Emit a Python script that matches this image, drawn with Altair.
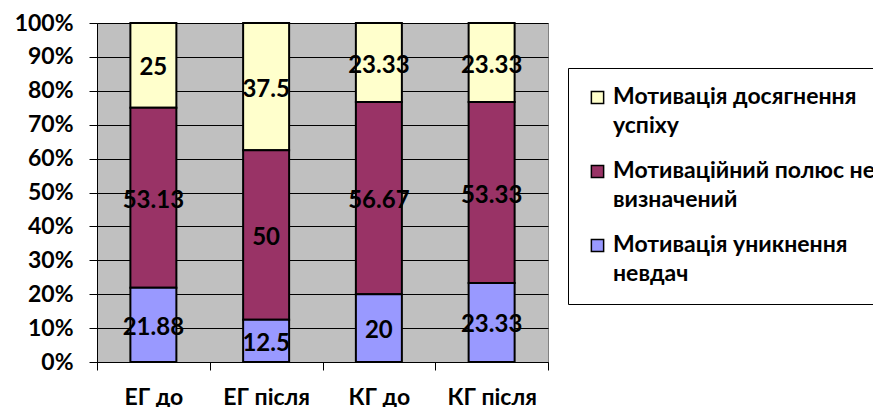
import altair as alt
import pandas as pd

# Groups along the x axis
groups = ["ЕГ до", "ЕГ після", "КГ до", "КГ після"]

# Series (percent shares per group)
series_names = [
    "Мотивація досягнення|успіху",
    "Мотиваційний полюс не|визначений",
    "Мотивація уникнення|невдач",
]
success = [25, 37.5, 23.33, 23.33]
undefined_pole = [53.13, 50, 56.67, 53.33]
avoid_failure = [21.88, 12.5, 20, 23.33]

# y-axis tick positions (fractions of the stacked total)
y_ticks = [0, 0.1, 0.2, 0.3, 0.4, 0.5, 0.6, 0.7, 0.8, 0.9, 1]

series_colors = ["#FFFFCC", "#993366", "#9999FF"]
# stacking position: 0 = bottom
stack_pos = [2, 1, 0]

rows = []
for name, vals, pos in zip(series_names, [success, undefined_pole, avoid_failure], stack_pos):
    for g, v in zip(groups, vals):
        rows.append({"group": g, "series": name, "val": v, "ord": pos})
df = pd.DataFrame(rows)

FONT = "Lato"
LABEL_DY = 6  # shared vertical nudge of guide labels (aligns legend text with symbols)

base = alt.Chart(df).transform_stack(
    stack="val",
    groupby=["group"],
    sort=[alt.SortField("ord", order="ascending")],
    as_=["y0", "y1"],
    offset="normalize",
).transform_calculate(mid="(datum.y0 + datum.y1) / 2")

x_scale = alt.Scale(paddingInner=0, paddingOuter=0)
x_axis = alt.Axis(
    labelAngle=0,
    tickBand="extent",
    tickSize=8,
    tickColor="black",
    domainColor="black",
    labelPadding=16 - LABEL_DY,
    labelFont=FONT,
    labelFontSize=23,
    labelFontWeight="bold",
    labelColor="black",
    grid=False,
)

y_scale = alt.Scale(domain=[0, 1], nice=False)
y_axis = alt.Axis(
    format="%",
    values=y_ticks,
    labelOverlap=False,
    tickSize=8,
    tickColor="black",
    domainColor="black",
    gridColor="black",
    gridWidth=1,
    labelPadding=16,
    labelOffset=-LABEL_DY,
    labelFont=FONT,
    labelFontSize=23,
    labelFontWeight="bold",
    labelColor="black",
)

bars = base.mark_bar(size=46, stroke="black", strokeWidth=2).encode(
    x=alt.X("group:N", sort=groups, title=None, scale=x_scale, axis=x_axis),
    y=alt.Y("y0:Q", title=None, scale=y_scale, axis=y_axis),
    y2="y1:Q",
    color=alt.Color(
        "series:N",
        scale=alt.Scale(domain=series_names, range=series_colors),
        legend=alt.Legend(
            title=None,
            orient="none",
            legendX=471,
            legendY=45,
            direction="vertical",
            labelExpr="split(datum.label, '|')",
            labelFont=FONT,
            labelFontSize=23,
            labelFontWeight="bold",
            labelColor="black",
            labelBaseline="alphabetic",
            labelLimit=500,
            labelOffset=4,
            symbolType="square",
            symbolSize=150,
            symbolStrokeColor="black",
            symbolStrokeWidth=1.5,
            rowPadding=21,
            padding=18,
            strokeColor="black",
            fillColor="white",
        ),
    ),
)

labels = base.mark_text(
    font=FONT, fontSize=24, fontWeight="bold", color="black", baseline="middle", dy=3
).encode(
    x=alt.X("group:N", sort=groups, title=None, scale=x_scale, axis=x_axis),
    y=alt.Y("mid:Q", title=None, scale=y_scale, axis=y_axis),
    text=alt.Text("val:Q"),
)

chart = (
    alt.layer(bars, labels)
    .properties(
        width=451,
        height=339,
        autosize=alt.AutoSizeParams(type="none"),
        padding={"left": 97, "top": 23, "right": 325, "bottom": 45},
        background="white",
    )
    .configure(style={"guide-label": {"lineHeight": 29, "dy": LABEL_DY}})
    .configure_view(fill="#C0C0C0", stroke="#808080", strokeWidth=1)
)

chart.save("out.html", embed_options={"renderer": "svg", "actions": False})
